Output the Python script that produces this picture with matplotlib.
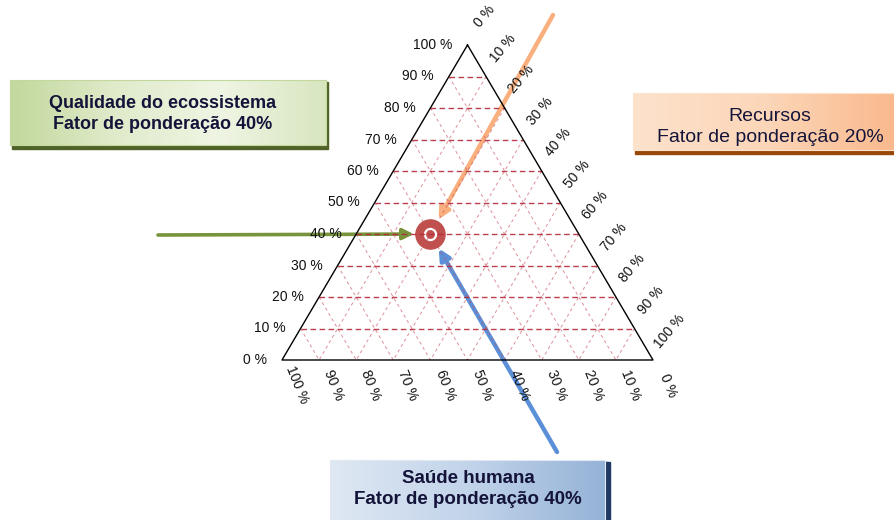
import matplotlib
matplotlib.use("Agg")
import matplotlib.pyplot as plt
import numpy as np
from matplotlib.colors import LinearSegmentedColormap
from matplotlib.patches import Rectangle

plt.rcParams['font.family'] = ['Liberation Sans', 'DejaVu Sans']

# data
ticks = [0, 10, 20, 30, 40, 50, 60, 70, 80, 90, 100]
tick_labels = ["0 %", "10 %", "20 %", "30 %", "40 %", "50 %",
               "60 %", "70 %", "80 %", "90 %", "100 %"]
qualidade = 40   # apex axis (left labels)
saude = 40       # bottom axis
recursos = 20    # right axis
box_qualidade = "Qualidade do ecossistema\nFator de ponderação 40%"
box_recursos = "Recursos\nFator de ponderação 20%"
box_saude = "Saúde humana\nFator de ponderação 40%"

W, H_PX = 895, 520
X0, X1, YB, YA = 282, 653, 360, 45   # triangle corners in pixels
H = np.sqrt(3) / 2


def tern(a, b, c):
    # a = qualidade (top), b = saude (bottom-left), c = recursos (bottom-right)
    a, b, c = np.asarray(a) / 100.0, np.asarray(b) / 100.0, np.asarray(c) / 100.0
    return c + a * 0.5, a * H


fig = plt.figure(figsize=(W / 100, H_PX / 100), dpi=100)
ov = fig.add_axes([0, 0, 1, 1])
ov.set_xlim(0, W)
ov.set_ylim(H_PX, 0)
ov.axis('off')

ax = fig.add_axes([0, 0, 1, 1])
ax.patch.set_alpha(0)
sx = X1 - X0
sy = (YB - YA) / H
ax.set_xlim(-X0 / sx, (W - X0) / sx)
ax.set_ylim(-(H_PX - YB) / sy, YB / sy)
ax.axis('off')

# grid
for k in ticks[1:-1]:
    x, y = tern([k, k], [100 - k, 0], [0, 100 - k])
    ax.plot(x, y, color='#b52a3a', lw=1.0, dashes=(4, 2.5), alpha=0.9, zorder=2)
    x, y = tern([100 - k, 0], [k, k], [0, 100 - k])
    ax.plot(x, y, color='#c8505f', lw=0.75, dashes=(3, 3), alpha=0.6, zorder=1)
    x, y = tern([100 - k, 0], [0, 100 - k], [k, k])
    ax.plot(x, y, color='#c8505f', lw=0.75, dashes=(3, 3), alpha=0.6, zorder=1)

# triangle outline
x, y = tern([100, 0, 0, 100], [0, 100, 0, 0], [0, 0, 100, 0])
ax.plot(x, y, color='black', lw=1.0, zorder=3)

# tick labels
for v, lab in zip(ticks, tick_labels):
    x, y = tern(v, 100 - v + 4, -4)
    ax.text(x, y, lab, ha='right', va='center', fontsize=10, color='#111111')
    x, y = tern(-8, v, 100 - v + 8)
    ax.text(x, y, lab, ha='center', va='center', fontsize=10, rotation=-68,
            rotation_mode='anchor', color='#111111')
    x, y = tern(100 - v + 9, -9, v)
    ax.text(x, y, lab, ha='center', va='center', fontsize=10, rotation=50,
            rotation_mode='anchor', color='#111111')


def gbox(x0, y0, x1, y1, colors, shadow, sb, sr, z=5):
    cmap = LinearSegmentedColormap.from_list('g', colors)
    grad = np.linspace(0, 1, 256)[None, :]
    ov.add_patch(Rectangle((x0 + 2, y0 + 2), x1 - x0, y1 - y0 + sb - 2,
                           color=shadow, zorder=z - 1))
    if sr:
        ov.add_patch(Rectangle((x0 + 2, y0 + 2), x1 - x0 + sr, y1 - y0,
                               color=shadow, zorder=z - 1))
    ov.imshow(grad, cmap=cmap, extent=(x0, x1, y1, y0), aspect='auto', zorder=z)
    ov.add_patch(Rectangle((x0, y0), x1 - x0, y1 - y0, fill=False,
                           ec=colors[0], lw=0.8, zorder=z + 0.1))


gbox(10, 80, 326, 145, ['#c2d89c', '#e0ebcb', '#eff5e3', '#d8e6c0'], '#4f6228', 4, 0)
gbox(633, 93, 900, 150, ['#fde2cc', '#fcd6b8', '#f9b88b'], '#984807', 4, 0)
gbox(330, 460, 605, 525, ['#dfe8f3', '#c2d4ea', '#95b3d7'], '#1f3864', 0, 3)

ov.text(163, 114, box_qualidade, ha='center', va='center', fontsize=13,
        fontweight='bold', color='#14143a', linespacing=1.3, zorder=7)
ov.text(770, 127, box_recursos, ha='center', va='center', fontsize=14,
        color='#14143a', linespacing=1.25, zorder=7)
ov.text(468, 489, box_saude, ha='center', va='center', fontsize=13.5,
        fontweight='bold', color='#14143a', linespacing=1.25, zorder=7)

# arrows toward the weighted point
pt = tern(qualidade, saude, recursos)
ov.set_xlim(0, W)
ov.set_ylim(H_PX, 0)
ov.annotate('', xy=pt, xycoords=ax.transData, xytext=(158, 235), textcoords='data',
            arrowprops=dict(arrowstyle='-|>', color='#77933c', lw=2.6,
                            mutation_scale=16, shrinkA=0, shrinkB=12), zorder=4)
ov.annotate('', xy=pt, xycoords=ax.transData, xytext=(553, 15), textcoords='data',
            arrowprops=dict(arrowstyle='-|>', color='#f9b07e', lw=3.2,
                            mutation_scale=16, shrinkA=0, shrinkB=12), zorder=4)
ov.annotate('', xy=pt, xycoords=ax.transData, xytext=(557, 452), textcoords='data',
            arrowprops=dict(arrowstyle='-|>', color='#5b8fd8', lw=3.2,
                            mutation_scale=16, shrinkA=0, shrinkB=12), zorder=4)

# target marker
ov.plot(*pt, 'o', ms=21, color='#c0504d', transform=ax.transData, zorder=6)
ov.plot(*pt, 'o', ms=8, mfc='none', mec='white', mew=1.6, transform=ax.transData, zorder=6)

fig.savefig('out.png', dpi=100)
